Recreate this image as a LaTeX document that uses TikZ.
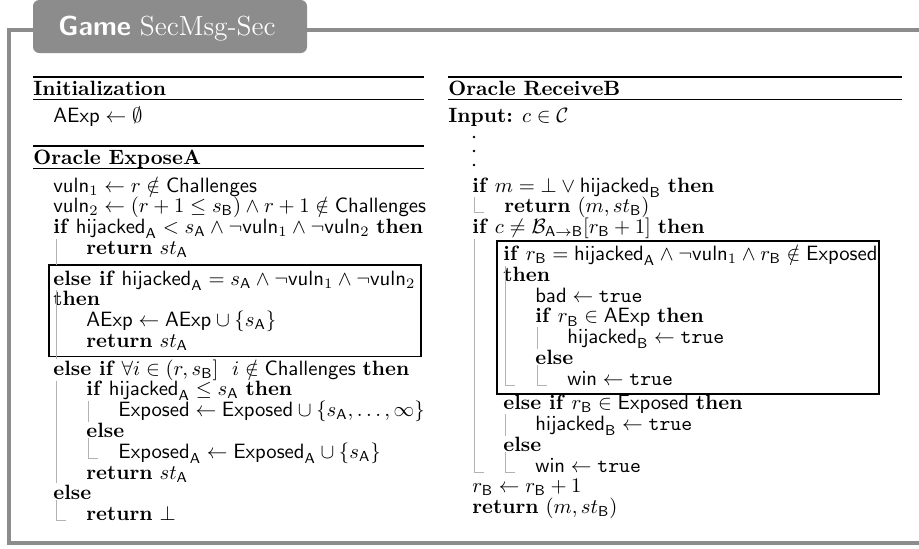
\documentclass[tikz,border=0pt]{standalone}
\usetikzlibrary{calc,positioning}
\newcommand{\kw}[1]{\textbf{#1}}
\newcommand{\sv}[1]{\mathsf{#1}}

\begin{document}
\begin{tikzpicture}[x=0.483pt,y=-0.483pt,
                    ln/.style={anchor=base west,inner sep=0pt,font=\normalsize},
                    head/.style={ln,font=\bfseries},
                    heavyrule/.style={line width=0.8pt},
                    lightrule/.style={line width=0.4pt},
                    vline/.style={black!30,line width=0.4pt},
                    hlbox/.style={draw,line width=0.5pt},
                    gameframe/.style={black!45,line width=1.6pt}]
    \useasboundingbox (0,0) rectangle (919,548);

    \draw[gameframe] (919,30) -- (9,30) -- (9,543) -- (919,543);
    \fill[black!45,rounded corners=3pt] (33,0) rectangle (307,53);
    \node[ln,text=white,font={\fontsize{13.3}{16}\selectfont}] (title) at (58,35) {\textsf{\bfseries Game} SecMsg-Sec};

    \coordinate (lbar0) at (56,0);
    \coordinate (lbar1) at (88,0);
    \coordinate (rbar0) at (474,0);
    \coordinate (rbar1) at (505,0);
    \coordinate (rbar2) at (537,0);

    \draw[heavyrule] (33,77) -- (424,77);
    \node[head] (init) at (33,95) {Initialization};
    \draw[lightrule] (33,99) -- (424,99);
    \node[ln] (aexp) at (53,122) {$\sv{AExp} \gets \emptyset$};

    \draw[heavyrule] (33,146) -- (424,146);
    \node[head] (expose) at (33,164) {Oracle ExposeA};
    \draw[lightrule] (33,168) -- (424,168);
    \node[ln] (vulnone) at (53,192) {$\sv{vuln}_1 \gets r \notin \sv{Challenges}$};
    \node[ln] (vulntwo) at (53,212.8) {$\sv{vuln}_2 \gets (r+1 \leq s_\sv{B}) \land r+1 \notin \sv{Challenges}$};
    \node[ln] (ifa) at (53,233.6) {\kw{if} $\sv{hijacked}_\sv{A} < s_\sv{A} \land \neg\sv{vuln}_1 \land \neg\sv{vuln}_2$ \kw{then}};
    \node[ln] (reta) at (86,254.4) {\kw{return} $st_\sv{A}$};
    \coordinate (aboxtl) at (49,265);
    \coordinate (aboxbr) at (421,356.5);
    \draw[hlbox] (aboxtl) rectangle (aboxbr);
    \node[ln] (elifa) at (53,285) {\kw{else if} $\sv{hijacked}_\sv{A} = s_\sv{A} \land \neg\sv{vuln}_1 \land \neg\sv{vuln}_2$};
    \node[ln] (thena) at (53,305.8) {\kw{then}};
    \node[ln] (aexpb) at (86,326.6) {$\sv{AExp} \gets \sv{AExp} \cup \{s_\sv{A}\}$};
    \node[ln] (retb) at (86,347.4) {\kw{return} $st_\sv{A}$};
    \node[ln] (elifb) at (53,375) {\kw{else if} $\forall i \in (r, s_\sv{B}]\ \ i \notin \sv{Challenges}$ \kw{then}};
    \node[ln] (ifb) at (86,395.8) {\kw{if} $\sv{hijacked}_\sv{A} \leq s_\sv{A}$ \kw{then}};
    \node[ln] (expa) at (118,416.6) {$\sv{Exposed} \gets \sv{Exposed} \cup \{s_\sv{A}, \dots, \infty\}$};
    \node[ln] (elsey) at (86,437.4) {\kw{else}};
    \node[ln] (expb) at (118,458.2) {$\sv{Exposed}_\sv{A} \gets \sv{Exposed}_\sv{A} \cup \{s_\sv{A}\}$};
    \node[ln] (retc) at (86,479) {\kw{return} $st_\sv{A}$};
    \node[ln] (elsez) at (53,499.8) {\kw{else}};
    \node[ln] (retz) at (86,520.6) {\kw{return} $\bot$};

    \draw[vline] (lbar0 |- ifa.south) -- (lbar0 |- aboxtl);
    \draw[vline] (lbar0 |- elifa.south) -- (lbar0 |- elifb.north);
    \draw[vline] (lbar0 |- elifb.south) -- (lbar0 |- retc.south);
    \draw[vline] (lbar0 |- elsez.south) |- ($(retz.base west)+(-20,0)$);
    \draw[vline] (lbar1 |- ifb.south) -- (lbar1 |- expa.south);
    \draw[vline] (lbar1 |- elsey.south) |- ($(expb.base west)+(-20,0)$);

    \draw[heavyrule] (448,77) -- (902,77);
    \node[head] (receive) at (448,95) {Oracle ReceiveB};
    \draw[lightrule] (448,99) -- (902,99);
    \node[ln] (input) at (448,122) {\kw{Input:} $c \in \mathcal{C}$};
    \fill (474,137) circle (1.3);
    \fill (474,151) circle (1.3);
    \fill (474,165) circle (1.3);
    \node[ln] (ifm) at (472,192) {\kw{if} $m = \bot \lor \sv{hijacked}_\sv{B}$ \kw{then}};
    \node[ln] (retm) at (504,212.8) {\kw{return} $(m, st_\sv{B})$};
    \node[ln] (ifc) at (472,233.6) {\kw{if} $c \neq \mathcal{B}_{\sv{A}\to\sv{B}}[r_\sv{B}+1]$ \kw{then}};
    \coordinate (rboxtl) at (497,241);
    \coordinate (rboxbr) at (879,394);
    \draw[hlbox] (rboxtl) rectangle (rboxbr);
    \node[ln] (ifr) at (503,260.5) {\kw{if} $r_\sv{B} = \sv{hijacked}_\sv{A} \land \neg\sv{vuln}_1 \land r_\sv{B} \notin \sv{Exposed}$};
    \node[ln] (thenr) at (503,281.3) {\kw{then}};
    \node[ln] (bad) at (535,302.1) {$\sv{bad} \gets \texttt{true}$};
    \node[ln] (ifae) at (535,322.9) {\kw{if} $r_\sv{B} \in \sv{AExp}$ \kw{then}};
    \node[ln] (hija) at (567,343.7) {$\sv{hijacked}_\sv{B} \gets \texttt{true}$};
    \node[ln] (elsea) at (535,364.5) {\kw{else}};
    \node[ln] (wina) at (567,385.3) {$\sv{win} \gets \texttt{true}$};
    \node[ln] (elifr) at (503,409.6) {\kw{else if} $r_\sv{B} \in \sv{Exposed}$ \kw{then}};
    \node[ln] (hijb) at (535,430.4) {$\sv{hijacked}_\sv{B} \gets \texttt{true}$};
    \node[ln] (elseb) at (503,451.2) {\kw{else}};
    \node[ln] (winb) at (535,472) {$\sv{win} \gets \texttt{true}$};
    \node[ln] (rbinc) at (472,492.8) {$r_\sv{B} \gets r_\sv{B} + 1$};
    \node[ln] (retr) at (472,513.6) {\kw{return} $(m, st_\sv{B})$};

    \draw[vline] (rbar0 |- ifm.south) |- ($(retm.base west)+(-20,0)$);
    \draw[vline] (rbar0 |- ifc.south) |- ($(winb.base west)+(-51,0)$);
    \draw[vline] (rbar1 |- ifr.south) |- ($(wina.base west)+(-52,0)$);
    \draw[vline] (rbar2 |- ifae.south) -- (rbar2 |- hija.south);
    \draw[vline] (rbar2 |- elsea.south) |- ($(wina.base west)+(-20,0)$);
    \draw[vline] (rbar1 |- elifr.south) -- (rbar1 |- hijb.south);
    \draw[vline] (rbar1 |- elseb.south) |- ($(winb.base west)+(-20,0)$);
\end{tikzpicture}
\end{document}
